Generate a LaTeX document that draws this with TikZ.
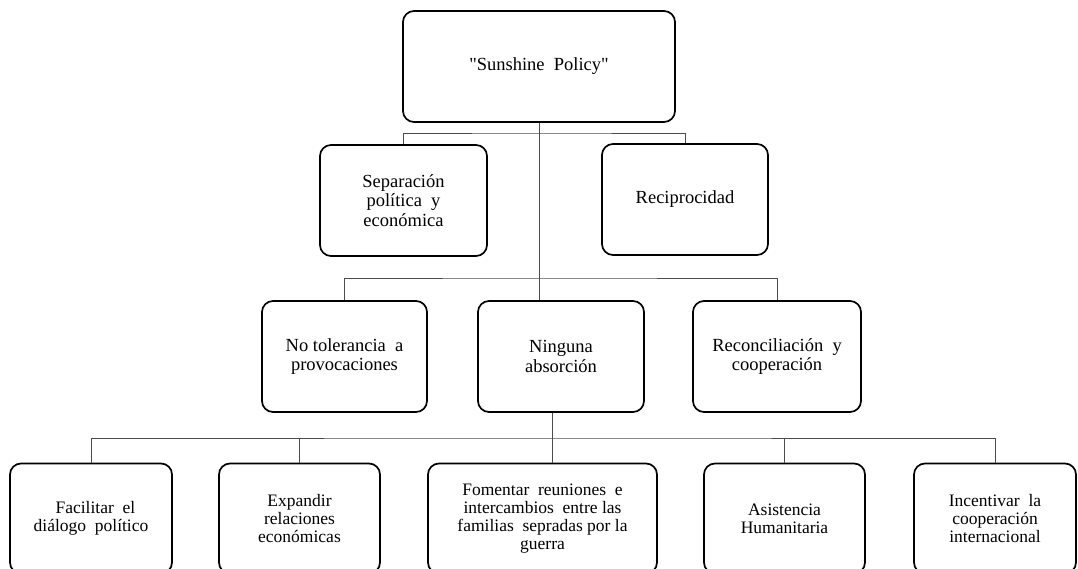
\documentclass[tikz,border=0pt]{standalone}
\usepackage{fontspec}
\setmainfont{Liberation Serif}
\usepackage{tikz}
\usetikzlibrary{positioning}

\begin{document}
\begin{tikzpicture}[x=1pt,y=-1pt,
    box/.style={draw=black,line width=1.7pt,rounded corners=11pt,align=center,
        inner sep=2pt,font=\fontsize{18.5}{19.7}\selectfont},
    lowbox/.style={box,font=\fontsize{17.5}{17.8}\selectfont},
    link/.style={draw=black!70,line width=0.9pt}]

        \useasboundingbox (0,0) rectangle (1078,569);
        \clip (0,0) rectangle (1078,569);

        % top
        \node[box,minimum width=272pt,minimum height=111pt] (policy) at (539,66.5) {\textquotedbl Sunshine\ \ Policy\textquotedbl};

        % first level
        \node[box,minimum width=167pt,minimum height=111pt] (separ) at (403.5,200.5) {Separación\\política\ \ y\\económica};
        \node[box,minimum width=166pt,minimum height=111pt] (recip) at (685,199.5) {Reciprocidad};

        % second level
        \node[box,minimum width=165pt,minimum height=111pt] (notol) at (344.5,356.5) {No tolerancia\ \ a\\provocaciones};
        \node[box,minimum width=166pt,minimum height=111pt] (absorb) at (561,356.5) {Ninguna\\absorción};
        \node[box,minimum width=168pt,minimum height=111pt] (recon) at (777,356.5) {Reconciliación\ \ y\\cooperación};

        % third level
        \node[lowbox,minimum width=162pt,minimum height=110pt] (dialog) at (91,518.5) {\ \ Facilitar\ \ el\\diálogo\ \ político};
        \node[lowbox,minimum width=161pt,minimum height=110pt] (econ) at (299.5,518.5) {Expandir\\relaciones\\económicas};
        \node[lowbox,minimum width=229pt,minimum height=110pt] (famil) at (542.5,518.5) {Fomentar\ \ reuniones\ \ e\\intercambios\ \ entre las\\familias\ \ sepradas por la\\guerra};
        \node[lowbox,minimum width=161pt,minimum height=110pt] (human) at (784.5,518.5) {Asistencia\\Humanitaria};
        \node[lowbox,minimum width=162pt,minimum height=110pt] (coop) at (995,518.5) {Incentivar\ \ la\\cooperación\\internacional};

        \coordinate (bar1) at (539,133);
        \coordinate (bar2) at (539,278);
        \coordinate (bar3) at (552,438);

        \draw[link] (policy.south) -- (policy.south |- absorb.north);
        \draw[link] (separ.north) |- (bar1) -| (recip.north);
        \draw[link] (notol.north) |- (bar2) -| (recon.north);
        \draw[link] (bar3 |- absorb.south) -- (bar3);
        \draw[link] (dialog.north) |- (bar3) -| (coop.north);
        \draw[link] (econ.north) -- (econ.north |- bar3);
        \draw[link] (bar3) -- (bar3 |- famil.north);
        \draw[link] (human.north) -- (human.north |- bar3);

    \end{tikzpicture}
\end{document}
